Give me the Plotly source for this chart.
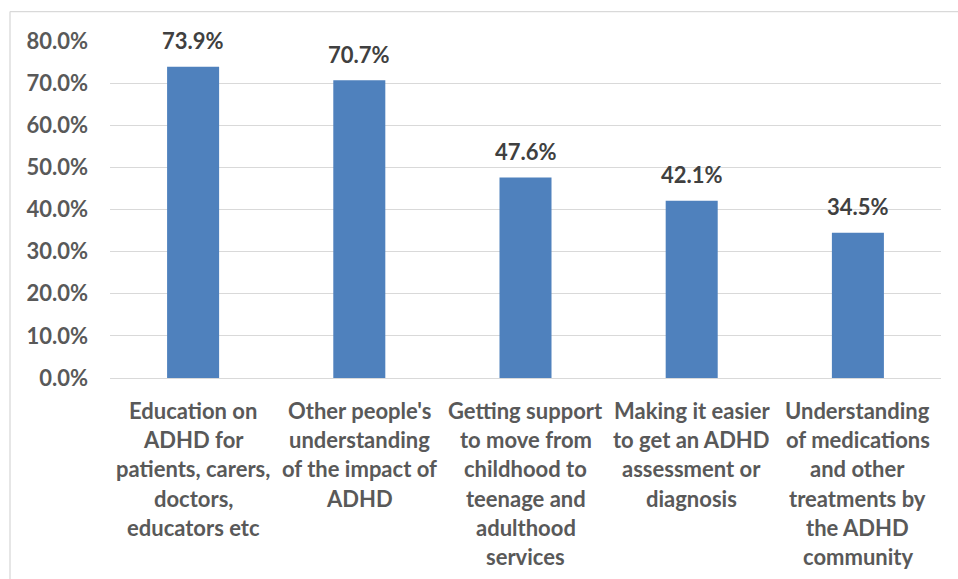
import plotly.graph_objects as go

categories = [
    "Education on ADHD for patients, carers, doctors, educators etc",
    "Other people's understanding of the impact of ADHD",
    "Getting support to move from childhood to teenage and adulthood services",
    "Making it easier to get an ADHD assessment or diagnosis",
    "Understanding of medications and other treatments by the ADHD community",
]
label_lines = [
    ["Education on", "ADHD for", "patients, carers,", "doctors,", "educators etc"],
    ["Other people's", "understanding", "of the impact of", "ADHD"],
    ["Getting support", "to move from", "childhood to", "teenage and", "adulthood", "services"],
    ["Making it easier", "to get an ADHD", "assessment or", "diagnosis"],
    ["Understanding", "of medications", "and other", "treatments by", "the ADHD", "community"],
]
values = [0.739, 0.707, 0.476, 0.421, 0.345]
y_ticks = [0, 0.1, 0.2, 0.3, 0.4, 0.5, 0.6, 0.7, 0.8]

FONT = "Lato"
TICK_COL = "#595959"
LABEL_COL = "#404040"
BAR_COL = "#4F81BD"
GRID_COL = "#D9D9D9"

W, H = 958, 579
ML, MR, MT, MB = 110, 17, 40.5, 200.5
PW = W - ML - MR
PH = H - MT - MB

fig = go.Figure()
fig.add_trace(go.Bar(x=categories, y=values, marker_color=BAR_COL,
                     marker_line_width=0, hoverinfo="skip"))

annotations = []
for c, v in zip(categories, values):
    annotations.append(dict(x=c, y=v, xref="x", yref="y", text=f"{v*100:.1f}%",
                            showarrow=False, yanchor="middle", yshift=26,
                            font=dict(family=FONT, size=22, color=LABEL_COL, weight="bold")))
for c, lines in zip(categories, label_lines):
    for i, ln in enumerate(lines):
        annotations.append(dict(x=c, y=0, xref="x", yref="paper", text=ln,
                                showarrow=False, yanchor="middle",
                                yshift=-32.5 - 29.2 * i,
                                font=dict(family=FONT, size=22, color=TICK_COL, weight="bold")))

def px2paper_x(p):
    return (p - ML) / PW

def px2paper_y(p):
    return (H - MB - p) / PH

shapes = [
    dict(type="line", xref="paper", yref="paper",
         x0=px2paper_x(10), x1=px2paper_x(960), y0=px2paper_y(11), y1=px2paper_y(11),
         line=dict(color=GRID_COL, width=1.3)),
    dict(type="line", xref="paper", yref="paper",
         x0=px2paper_x(10), x1=px2paper_x(10), y0=px2paper_y(11), y1=px2paper_y(581),
         line=dict(color=GRID_COL, width=1.3)),
]

fig.update_layout(
    width=W, height=H,
    margin=dict(l=ML, r=MR, t=MT, b=MB),
    paper_bgcolor="white", plot_bgcolor="white",
    bargap=0.687,
    showlegend=False,
    annotations=annotations,
    shapes=shapes,
    font=dict(family=FONT, size=21, color=TICK_COL, weight="bold"),
)
fig.update_xaxes(showticklabels=False, showgrid=False, zeroline=False,
                 showline=True, linecolor=GRID_COL, linewidth=1.3)
fig.update_yaxes(range=[0, 0.8], tickvals=y_ticks, tickformat=".1%",
                 showgrid=True, gridcolor=GRID_COL, gridwidth=1.3,
                 zeroline=False, showline=False, ticklabelstandoff=21,
                 tickfont=dict(family=FONT, size=22, color=TICK_COL, weight="bold"))

fig.write_html("out.html", config={"displayModeBar": False})
